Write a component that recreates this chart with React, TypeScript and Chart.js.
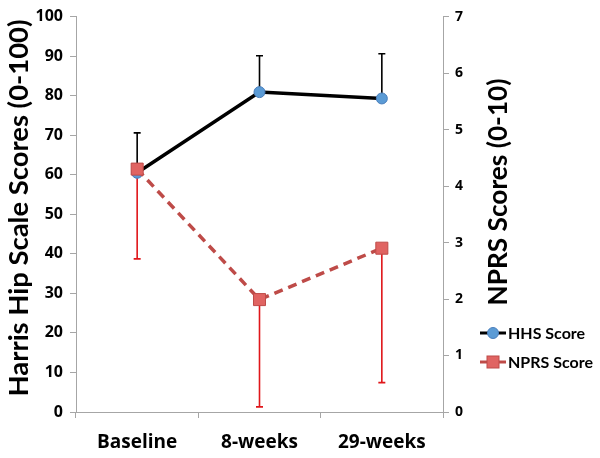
import React, { useEffect, useRef } from 'react';
import { Chart, registerables } from 'chart.js';
Chart.register(...registerables);

const categories = ['Baseline', '8-weeks', '29-weeks'];
const hhsMean = [60.5, 80.9, 79.3];
const hhsUpper = [70.6, 90.1, 90.6];
const nprsMean = [4.3, 1.99, 2.9];
const nprsLower = [2.71, 0.09, 0.52];
const leftTicks = [0, 100, 10];
const rightTicks = [0, 7, 1];
const leftTitle = 'Harris Hip Scale Scores (0-100)';
const rightTitle = 'NPRS Scores (0-10)';

const FONT = 'Lato, "Open Sans", sans-serif';
const TICKFONT = '"Open Sans", Lato, sans-serif';

const errorBars = {
  id: 'errorBars',
  beforeDatasetsDraw(chart: any) {
    const { ctx } = chart;
    const x = chart.scales.x, y = chart.scales.y, y1 = chart.scales.y1;
    ctx.save();
    const draw = (px: number, from: number, to: number, color: string) => {
      ctx.strokeStyle = color;
      ctx.lineWidth = 1.6;
      ctx.beginPath();
      ctx.moveTo(px, from);
      ctx.lineTo(px, to);
      ctx.moveTo(px - 3.5, to);
      ctx.lineTo(px + 3.5, to);
      ctx.stroke();
    };
    categories.forEach((_, i) => {
      const px = x.getPixelForValue(i);
      draw(px, y.getPixelForValue(hhsMean[i]), y.getPixelForValue(hhsUpper[i]), '#000000');
      draw(px, y1.getPixelForValue(nprsMean[i]), y1.getPixelForValue(nprsLower[i]), '#e0161a');
    });
    ctx.restore();
  },
};

const drawCondensed = (ctx: any, text: string, cx: number, cy: number, size: number, target: number) => {
  ctx.save();
  ctx.translate(cx, cy);
  ctx.rotate(-Math.PI / 2);
  ctx.font = `bold ${size}px ${FONT}`;
  const w = ctx.measureText(text).width;
  ctx.scale(target / w, 1);
  ctx.textAlign = 'center';
  ctx.textBaseline = 'middle';
  ctx.fillStyle = '#000';
  ctx.fillText(text, 0, 0);
  ctx.restore();
};

const titlesLegend = {
  id: 'titlesLegend',
  afterDraw(chart: any) {
    const { ctx } = chart;
    drawCondensed(ctx, leftTitle, 19, 208, 27, 377);
    drawCondensed(ctx, rightTitle, 498, 192, 27, 227);
    const items = chart.data.datasets;
    const ys = [333, 362];
    items.forEach((ds: any, i: number) => {
      const yy = ys[i];
      ctx.save();
      ctx.strokeStyle = ds.borderColor;
      ctx.lineWidth = 3;
      ctx.beginPath();
      ctx.moveTo(480, yy);
      ctx.lineTo(506, yy);
      ctx.stroke();
      ctx.fillStyle = ds.pointBackgroundColor;
      ctx.strokeStyle = ds.pointBorderColor;
      ctx.lineWidth = 1;
      if (ds.pointStyle === 'rect') {
        ctx.fillRect(487, yy - 6, 12, 12);
        ctx.strokeRect(487, yy - 6, 12, 12);
      } else {
        ctx.beginPath();
        ctx.arc(493, yy, 5.5, 0, Math.PI * 2);
        ctx.fill();
        ctx.stroke();
      }
      ctx.font = `bold 16px ${FONT}`;
      ctx.fillStyle = '#000';
      ctx.textAlign = 'left';
      ctx.textBaseline = 'middle';
      ctx.fillText(ds.label, 508, yy + 1);
      ctx.restore();
    });
  },
};

export default function App() {
  const ref = useRef<HTMLCanvasElement>(null);
  useEffect(() => {
    const axisColor = '#a6a6a6';
    const chart = new Chart(ref.current as HTMLCanvasElement, {
      type: 'line',
      data: {
        labels: categories,
        datasets: [
          {
            label: 'HHS Score',
            data: hhsMean,
            yAxisID: 'y',
            borderColor: '#000000',
            borderWidth: 3.5,
            pointStyle: 'circle',
            pointRadius: 5.5,
            pointBackgroundColor: '#5b9bd5',
            pointBorderColor: '#4a7ebb',
            pointBorderWidth: 1,
            order: 2,
            tension: 0,
          },
          {
            label: 'NPRS Score',
            data: nprsMean,
            yAxisID: 'y1',
            borderColor: '#be4b48',
            borderDash: [9, 6],
            borderWidth: 3.5,
            pointStyle: 'rect',
            pointRadius: 8.5,
            pointBackgroundColor: '#e06462',
            pointBorderColor: '#be4b48',
            pointBorderWidth: 1,
            order: 1,
            tension: 0,
          },
        ] as any,
      },
      options: {
        responsive: false,
        animation: false,
        layout: { padding: { top: 7, left: 0, right: 0, bottom: 0 } },
        plugins: { legend: { display: false }, tooltip: { enabled: false } },
        scales: {
          x: {
            offset: true,
            grid: { drawOnChartArea: false, tickLength: 6, color: axisColor, offset: true },
            border: { color: axisColor, width: 1 },
            ticks: { font: { family: TICKFONT, weight: 'bold', size: 19 }, color: '#000', padding: 13, maxRotation: 0 },
            afterFit: (s: any) => { s.height = 46; },
          },
          y: {
            position: 'left',
            min: leftTicks[0],
            max: leftTicks[1],
            grid: { drawOnChartArea: false, tickLength: 6, color: axisColor },
            border: { color: axisColor, width: 1 },
            ticks: { stepSize: leftTicks[2], font: { family: TICKFONT, weight: 'bold', size: 16 }, color: '#000', padding: 7 },
            afterFit: (s: any) => { s.width = 76; },
          },
          y1: {
            position: 'right',
            min: rightTicks[0],
            max: rightTicks[1],
            grid: { drawOnChartArea: false, tickLength: 6, color: axisColor },
            border: { color: axisColor, width: 1 },
            ticks: { stepSize: rightTicks[2], font: { family: TICKFONT, weight: 'bold', size: 14 }, color: '#000', padding: 6 },
            afterFit: (s: any) => { s.width = 157; },
          },
        },
      } as any,
      plugins: [errorBars, titlesLegend],
    });
    return () => chart.destroy();
  }, []);
  return (
    <canvas
      ref={ref}
      width={600}
      height={458}
      style={{ position: 'absolute', left: 0, top: 0, width: 600, height: 458, background: '#fff' }}
    />
  );
}
